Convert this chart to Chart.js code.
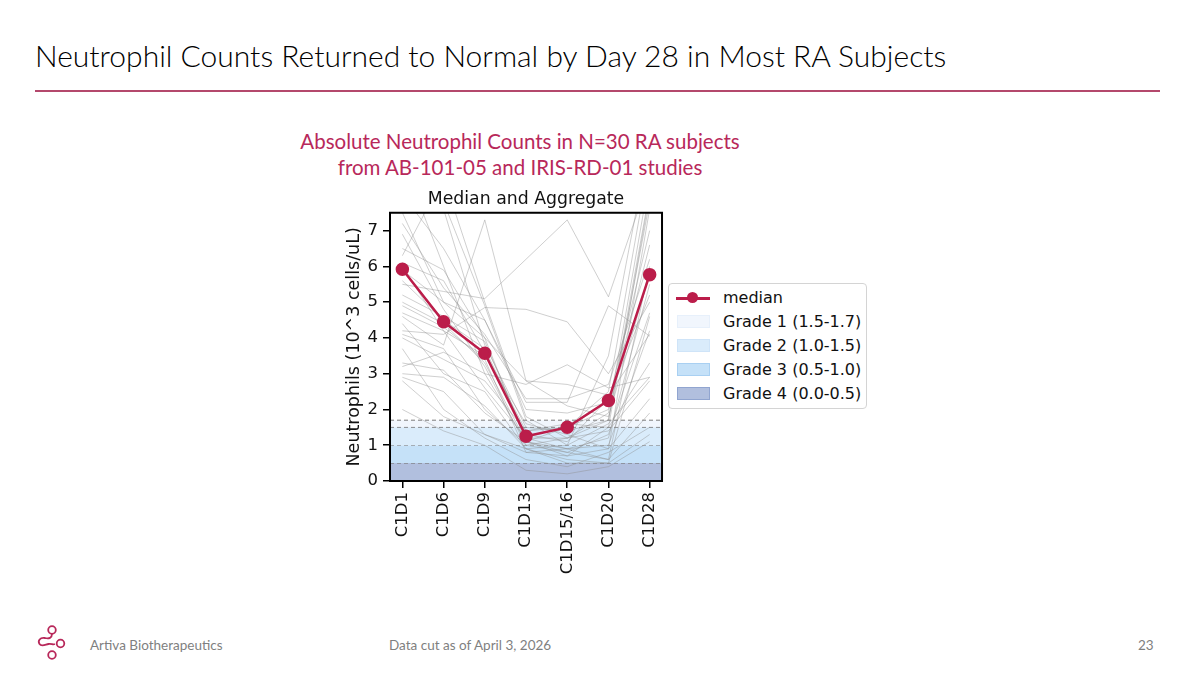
<!DOCTYPE html>
<html>
<head>
<meta charset="utf-8">
<script src="https://cdn.jsdelivr.net/npm/chart.js@4"></script>
<style>
  html, body { margin: 0; padding: 0; background: #fff; }
  #page { position: relative; width: 1200px; height: 675px; overflow: hidden; font-family: Lato, "Open Sans", sans-serif; }
  #titulo { position: absolute; left: 35px; top: 37px; font-size: 30px; font-weight: 300; color: #000; white-space: nowrap; }
  #linha { position: absolute; left: 35px; top: 90px; width: 1125px; height: 2px; background: #b4486c; }
  #sub { position: absolute; left: 220px; width: 600px; top: 128px; text-align: center; font-size: 20.5px; line-height: 26px; color: #b8285a; }
  #grafico-box { position: absolute; left: 340px; top: 180px; width: 334px; height: 420px; }
  #legenda { position: absolute; left: 668px; top: 283px; width: 197px; height: 124px; border: 1px solid #d4d4d4; border-radius: 4px;
             font-family: "DejaVu Sans", sans-serif; font-size: 16px; color: #111; background: #fff; }
  .item { position: absolute; left: 0; height: 24px; line-height: 24px; }
  .item span.txt { position: absolute; left: 54px; white-space: nowrap; }
  .sw { position: absolute; left: 8px; top: 5px; width: 33px; height: 13px; box-sizing: border-box; }
  .rodape { position: absolute; top: 637px; font-size: 13.5px; color: #7f7f7f; white-space: nowrap; }
</style>
</head>
<body>
<div id="page">
  <div id="titulo">Neutrophil Counts Returned to Normal by Day 28 in Most RA Subjects</div>
  <div id="linha"></div>
  <div id="sub">Absolute Neutrophil Counts in N=30 RA subjects<br>from AB-101-05 and IRIS-RD-01 studies</div>
  <div id="grafico-box"><canvas id="grafico" width="334" height="420"></canvas></div>
  <div id="legenda"></div>

  <svg style="position:absolute;left:30px;top:622px" width="45" height="40" viewBox="0 0 45 40">
    <g fill="none" stroke="#b8285a" stroke-width="1.8">
      <circle cx="22" cy="8" r="3.8"/>
      <circle cx="30.5" cy="21.5" r="3.8"/>
      <circle cx="22" cy="33" r="3.8"/>
      <path d="M22 11.8 C22 16 19 17 15 16 C10 15 7.5 19 9.5 22 C11.5 25 15.5 22.5 18.5 22 C21.5 21.5 23 23 25 22"/>
    </g>
  </svg>
  <div class="rodape" style="left:90px">Artiva Biotherapeutics</div>
  <div class="rodape" style="left:389px">Data cut as of April 3, 2026</div>
  <div class="rodape" style="left:1138px">23</div>
</div>

<script>
// pontos de coleta
const visitas = ["C1D1", "C1D6", "C1D9", "C1D13", "C1D15/16", "C1D20", "C1D28"];

// mediana (10^3 cells/uL)
const mediana = [5.92, 4.45, 3.57, 1.25, 1.50, 2.25, 5.77];

// cada sujeito, estimado da figura
const sujeitos = [
  [5.5, 5.3, 5.1, 6.2, 7.3, 5.15, 8.5],
  [4.6, 3.8, 7.3, 2.8, 2.7, 2.4, 4.1],
  [4.2, 4.1, 4.85, 4.8, 4.45, 3.0, 5.0],
  [3.2, 3.6, 3.0, 2.7, 3.25, 2.6, 2.9],
  [8.0, 6.5, 4.5, 2.2, 2.2, 4.9, 4.05],
  [6.3, 8.5, 5.0, 1.8, 1.2, 1.7, 7.8],
  [7.5, 5.0, 4.0, 1.1, 0.7, 1.5, 8.0],
  [6.9, 4.8, 3.2, 1.0, 0.8, 0.6, 6.0],
  [5.6, 4.5, 3.7, 1.3, 1.1, 2.3, 5.2],
  [4.4, 3.0, 2.5, 0.9, 0.5, 0.5, 4.6],
  [3.0, 2.9, 2.1, 0.9, 1.0, 1.6, 2.9],
  [2.0, 1.4, 1.0, 0.3, 0.2, 0.4, 1.1],
  [2.9, 2.5, 1.3, 0.8, 0.7, 0.9, 2.3],
  [8.2, 7.6, 3.8, 1.5, 1.4, 1.7, 8.1],
  [5.9, 5.0, 4.5, 2.0, 1.9, 2.2, 7.0],
  [4.7, 4.2, 2.6, 1.2, 0.9, 1.0, 4.2],
  [9.0, 6.0, 3.0, 1.1, 1.5, 2.5, 9.0],
  [6.5, 5.9, 4.0, 2.8, 2.1, 1.8, 5.8],
  [3.7, 2.0, 1.2, 0.6, 0.4, 0.8, 1.5],
  [4.0, 3.4, 2.8, 1.4, 1.6, 1.5, 3.3],
  [5.2, 4.6, 3.9, 1.2, 1.2, 1.9, 8.5],
  [2.8, 1.8, 1.3, 0.9, 0.6, 0.5, 1.3],
  [7.2, 5.4, 4.1, 2.3, 2.3, 2.7, 6.2],
  [4.1, 3.7, 2.0, 1.0, 1.2, 1.4, 2.8],
  [6.0, 4.2, 3.5, 1.6, 1.3, 0.9, 7.6],
  [8.4, 7.8, 4.9, 1.7, 1.0, 3.5, 9.5],
  [3.3, 3.1, 1.9, 1.1, 0.9, 0.6, 1.9],
  [5.0, 4.4, 3.3, 1.1, 0.8, 1.3, 4.7],
  [6.1, 5.6, 3.6, 1.4, 1.5, 2.0, 6.6],
  [4.9, 4.3, 3.4, 0.8, 0.9, 1.2, 5.5]
];

// faixas de neutropenia
const graus = ["Grade 1 (1.5-1.7)", "Grade 2 (1.0-1.5)", "Grade 3 (0.5-1.0)", "Grade 4 (0.0-0.5)"];
const grauMin = [1.5, 1.0, 0.5, 0.0];
const grauMax = [1.7, 1.5, 1.0, 0.5];
const grauCor = ["rgba(225,236,250,0.45)", "#daecfb", "#c5e1f8", "#b1bfde"];
const grauBorda = ["rgba(225,236,250,0.6)", "#cfe4f8", "#a9d0f2", "#91a5d0"];

const corMediana = "#bb1d4a";

function criarGrafico() {
  const ctx = document.getElementById("grafico");
  const datasets = [];

  graus.forEach((g, i) => {
    datasets.push({
      label: g,
      data: [{ x: -0.3, y: grauMax[i] }, { x: 6.3, y: grauMax[i] }],
      fill: { value: grauMin[i] },
      backgroundColor: grauCor[i],
      borderColor: "#7a7a7a",
      borderWidth: 1,
      borderDash: [4, 3],
      pointRadius: 0,
      order: 3
    });
  });

  sujeitos.forEach((s, i) => {
    datasets.push({
      label: "s" + (i + 1),
      data: s.map((v, j) => ({ x: j, y: v })),
      borderColor: "rgba(140,140,140,0.42)",
      borderWidth: 1,
      pointRadius: 0,
      fill: false,
      order: 2
    });
  });

  datasets.push({
    label: "median",
    data: mediana.map((v, j) => ({ x: j, y: v })),
    borderColor: corMediana,
    backgroundColor: corMediana,
    borderWidth: 2.5,
    pointRadius: 5.5,
    fill: false,
    order: 1
  });

  const moldura = {
    id: "moldura",
    afterDraw(chart) {
      const a = chart.chartArea;
      const c = chart.ctx;
      c.save();
      c.strokeStyle = "#000";
      c.lineWidth = 2;
      c.strokeRect(a.left, a.top, a.right - a.left, a.bottom - a.top);
      c.restore();
    }
  };

  new Chart(ctx, {
    type: "line",
    data: { datasets: datasets },
    options: {
      responsive: false,
      animation: false,
      layout: { padding: { right: 0 } },
      plugins: {
        legend: { display: false },
        tooltip: { enabled: false },
        title: {
          display: true,
          fullSize: false,
          text: "Median and Aggregate",
          color: "#111",
          font: { family: "DejaVu Sans", size: 17.3, weight: "normal" },
          padding: { top: 9, bottom: 3 }
        }
      },
      scales: {
        x: {
          type: "linear",
          min: -0.3,
          max: 6.3,
          afterBuildTicks: (s) => { s.ticks = visitas.map((_, i) => ({ value: i })); },
          afterFit: (s) => { s.height = 119; },
          ticks: {
            callback: (v) => visitas[v],
            maxRotation: 90,
            minRotation: 90,
            color: "#111",
            padding: 4,
            font: { family: "DejaVu Sans", size: 16.5 }
          },
          grid: { drawOnChartArea: false, drawTicks: true, tickLength: 7, color: "#000", lineWidth: 1.5 },
          border: { display: true, color: "#000", width: 2 }
        },
        y: {
          min: 0,
          max: 7.5,
          afterFit: (s) => { s.width = 50; },
          ticks: {
            stepSize: 1,
            includeBounds: false,
            color: "#111",
            padding: 5,
            font: { family: "DejaVu Sans", size: 16.5 }
          },
          title: {
            display: true,
            text: "Neutrophils (10^3 cells/uL)",
            color: "#111",
            font: { family: "DejaVu Sans", size: 17.5 },
            padding: { top: 4, bottom: 0 }
          },
          grid: { drawOnChartArea: false, drawTicks: true, tickLength: 7, color: "#000", lineWidth: 1.5 },
          border: { display: true, color: "#000", width: 2 }
        }
      }
    },
    plugins: [moldura]
  });
}

function criarLegenda() {
  const leg = document.getElementById("legenda");
  let html = `
    <div class="item" style="top:2px">
      <div style="position:absolute;left:7px;top:11px;width:34px;height:2.5px;background:${corMediana}"></div>
      <div style="position:absolute;left:18px;top:6px;width:11px;height:11px;border-radius:50%;background:${corMediana}"></div>
      <span class="txt">median</span>
    </div>`;
  graus.forEach((g, i) => {
    html += `
    <div class="item" style="top:${26 + i * 24}px">
      <div class="sw" style="background:${grauCor[i]};border:1px solid ${grauBorda[i]}"></div>
      <span class="txt">${g}</span>
    </div>`;
  });
  leg.innerHTML = html;
}

criarGrafico();
criarLegenda();
</script>
</body>
</html>
